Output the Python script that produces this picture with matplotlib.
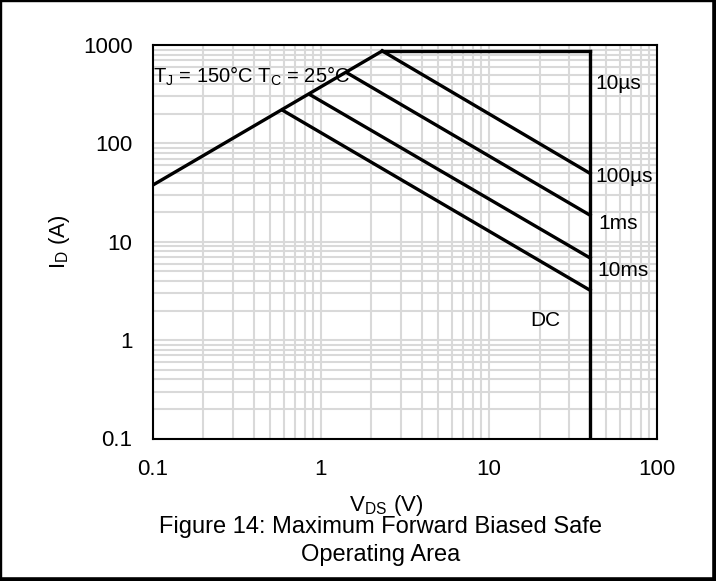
import numpy as np
import matplotlib
matplotlib.use('Agg')
import matplotlib.pyplot as plt
from matplotlib.lines import Line2D

plt.rcParams['font.family'] = ['Liberation Sans', 'DejaVu Sans']
plt.rcParams['mathtext.fontset'] = 'custom'
plt.rcParams['mathtext.rm'] = 'Liberation Sans'

# safe operating area boundaries
v_max = 40.0
i_max = 870.0
rds_v = [0.1, 2.32]
rds_i = [37.6, 870.0]

pulse_labels = ['100µs', '1ms', '10ms', 'DC']
pulse_start_v = [2.32, 1.43, 0.87, 0.59]
pulse_start_i = [870.0, 522.0, 310.0, 218.0]
pulse_end_i = [49.5, 18.6, 6.84, 3.21]

# label positions
label_text = ['10µs', '100µs', '1ms', '10ms', 'DC']
label_v = [43.0, 43.0, 45.0, 44.0, 21.7]
label_i = [408, 45.7, 15.3, 5.13, 1.59]
label_ha = ['left', 'left', 'left', 'left', 'center']

W, H = 716, 581
fig = plt.figure(figsize=(W / 100, H / 100), dpi=100)
ax = fig.add_axes([152.7 / W, 1 - 438.5 / H, (657 - 152.7) / W, (438.5 - 45) / H])
ax.set_xscale('log')
ax.set_yscale('log')
ax.set_xlim(0.1, 100)
ax.set_ylim(0.1, 1000)

ax.grid(True, which='both', color='#d9d9d9', lw=1.5)
ax.set_axisbelow(True)
ax.tick_params(which='both', length=0, labelsize=16)
ax.tick_params(axis='x', pad=15)
ax.tick_params(axis='y', pad=14.5)
ax.set_xticks([0.1, 1, 10, 100])
ax.set_xticklabels(['0.1', '1', '10', '100'])
ax.set_yticks([0.1, 1, 10, 100, 1000])
ax.set_yticklabels(['0.1', '1', '10', '100', '1000'])
for s in ax.spines.values():
    s.set_linewidth(1.5)

lw = 2.4
ax.plot(rds_v, rds_i, color='black', lw=lw, solid_joinstyle='miter')
ax.plot([rds_v[1], v_max], [i_max, i_max], color='black', lw=lw)
ax.plot([v_max, v_max], [i_max, 0.1], color='black', lw=lw)
for sv, si, ei in zip(pulse_start_v, pulse_start_i, pulse_end_i):
    ax.plot([sv, v_max], [si, ei], color='black', lw=lw)

for t, x, y, ha in zip(label_text, label_v, label_i, label_ha):
    ax.text(x, y, t, ha=ha, va='center', fontsize=15)

ax.text(0.101, 475, r'T$_\mathregular{J}$ = 150°C T$_\mathregular{C}$ = 25°C',
        ha='left', va='center', fontsize=14.5)

fig.text(60 / W, 1 - 242 / H, r'I$_\mathregular{D}$ (A)', rotation=90,
         ha='center', va='center', fontsize=16)
fig.text(386 / W, 1 - 510.5 / H, r'$\mathregular{V_{DS}\ (V)}$',
         ha='center', va='baseline', fontsize=16)
fig.text(381 / W, 1 - 533 / H, 'Figure 14: Maximum Forward Biased Safe',
         ha='center', va='baseline', fontsize=17)
fig.text(381 / W, 1 - 560.5 / H, 'Operating Area',
         ha='center', va='baseline', fontsize=17)

# outer frame, a bit heavier on the right and bottom
px = lambda x, y: (x / W, 1 - y / H)
for (x0, y0), (x1, y1), w in [((1.2, 0), (1.2, H), 2.4), ((0, 1.2), (W, 1.2), 2.4),
                              ((W - 2.3, 0), (W - 2.3, H), 4.6),
                              ((0, H - 2.3), (W, H - 2.3), 4.6)]:
    a, b = px(x0, y0), px(x1, y1)
    fig.add_artist(Line2D([a[0], b[0]], [a[1], b[1]], transform=fig.transFigure,
                          color='black', lw=w * 0.72))

fig.savefig('out.png', dpi=100)
